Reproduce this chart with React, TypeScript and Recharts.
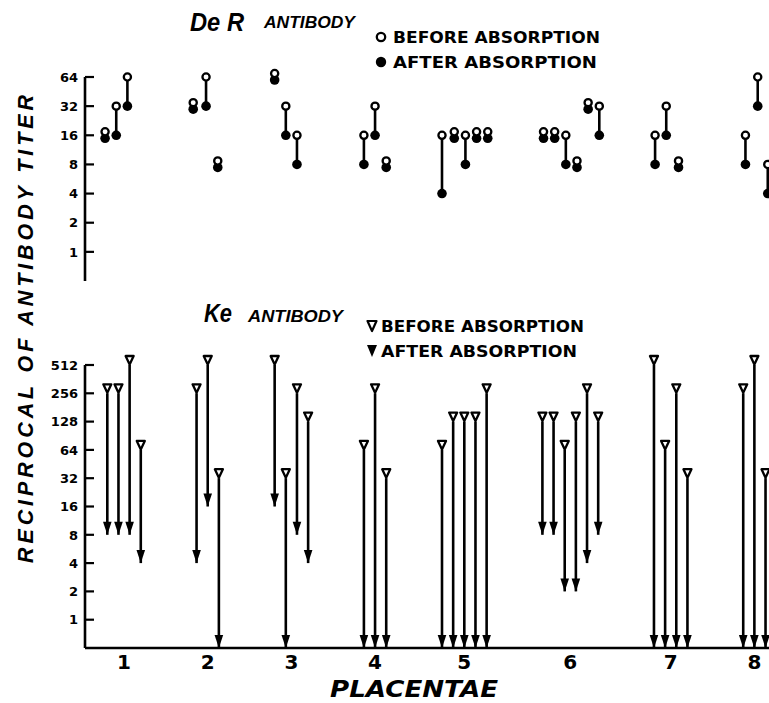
import React from 'react';
import { ScatterChart, Scatter, XAxis, YAxis, ErrorBar, Legend } from 'recharts';

// ---------------- data ----------------
const PLACENTA_LABELS = ['1', '2', '3', '4', '5', '6', '7', '8'];

// titres below 1 are plotted at the axis floor
const BELOW_ONE = 0.5;

// De R antibody (upper panel)
const DER_PLACENTA = [1, 1, 1, 2, 2, 2, 3, 3, 3, 4, 4, 4, 5, 5, 5, 5, 5, 6, 6, 6, 6, 6, 6, 7, 7, 7, 8, 8, 8];
const DER_SAMPLE = [1.8, 2.8, 3.8, 9.7, 10.85, 11.9, 17, 18, 19, 25, 26, 27, 32, 33.1, 34.1, 35.1, 36.1, 41.1, 42.1, 43.1, 44.1, 45.1, 46.1, 51.1, 52.1, 53.2, 59.2, 60.3, 61.2];
const DER_BEFORE = [16, 32, 64, 32, 64, 8, 64, 32, 16, 16, 32, 8, 16, 16, 16, 16, 16, 16, 16, 16, 8, 32, 32, 16, 32, 8, 16, 64, 8];
const DER_AFTER = [16, 16, 32, 32, 32, 8, 64, 16, 8, 8, 16, 8, 4, 16, 8, 16, 16, 16, 16, 8, 8, 32, 16, 8, 16, 8, 8, 32, 4];
const DER_TICKS = [1, 2, 4, 8, 16, 32, 64];

// Ke antibody (lower panel)
const KE_PLACENTA = [1, 1, 1, 1, 2, 2, 2, 3, 3, 3, 3, 4, 4, 4, 5, 5, 5, 5, 5, 6, 6, 6, 6, 6, 6, 7, 7, 7, 7, 8, 8, 8];
const KE_SAMPLE = [2, 3, 4, 5, 10, 11, 12, 17, 18, 19, 20, 25, 26, 27, 32, 33, 34, 35, 36, 41, 42, 43, 44, 45, 46, 51, 52, 53, 54, 59, 60, 61];
const KE_BEFORE = [256, 256, 512, 64, 256, 512, 32, 512, 32, 256, 128, 64, 256, 32, 64, 128, 128, 128, 256, 128, 128, 64, 128, 256, 128, 512, 64, 256, 32, 256, 512, 32];
const KE_AFTER = [8, 8, 8, 4, 4, 16, BELOW_ONE, 16, BELOW_ONE, 8, 4, BELOW_ONE, BELOW_ONE, BELOW_ONE, BELOW_ONE, BELOW_ONE, BELOW_ONE, BELOW_ONE, BELOW_ONE, 8, 8, 2, 2, 4, 8, BELOW_ONE, BELOW_ONE, BELOW_ONE, BELOW_ONE, BELOW_ONE, BELOW_ONE, BELOW_ONE];
const KE_TICKS = [1, 2, 4, 8, 16, 32, 64, 128, 256, 512];

const SERIES_BEFORE = 'BEFORE ABSORPTION';
const SERIES_AFTER = 'AFTER ABSORPTION';

// ---------------- derived tables ----------------
type Row = { sample: number; placenta: number; before: number; after: number };

const derRows: Row[] = DER_SAMPLE.map((s, i) => ({
  sample: s,
  placenta: DER_PLACENTA[i],
  before: DER_BEFORE[i],
  after: DER_AFTER[i],
}));
const keRows: Row[] = KE_SAMPLE.map((s, i) => ({
  sample: s,
  placenta: KE_PLACENTA[i],
  before: KE_BEFORE[i],
  after: KE_AFTER[i],
}));

// placenta label sits at the centre of its group of samples
const placentaTicks = PLACENTA_LABELS.map((_, p) => {
  const xs = keRows.filter((r) => r.placenta === p + 1).map((r) => r.sample);
  return (Math.min(...xs) + Math.max(...xs)) / 2;
});
const tickLabel = (v: number) => {
  const i = placentaTicks.indexOf(v);
  return i >= 0 ? PLACENTA_LABELS[i] : '';
};

const drop = (r: Row) => [r.before - r.after, 0];

// ---------------- styling ----------------
const FONT = "'DejaVu Sans', 'Liberation Sans', sans-serif";
const FONT2 = "'Liberation Sans', 'DejaVu Sans', sans-serif";
const INK = '#000';
const X_DOMAIN = [0, 64];
const CHART_W = 800;

// ---------------- shapes ----------------
const OpenCircle = (p: any) => {
  const { cx, cy, payload } = p;
  const dy = payload && payload.before === payload.after ? -3.5 : 0;
  return <circle cx={cx} cy={cy + dy} r={3.6} fill="#fff" stroke={INK} strokeWidth={2.3} />;
};
const FilledCircle = (p: any) => {
  const { cx, cy, payload } = p;
  const dy = payload && payload.before === payload.after ? 3 : 0;
  return <circle cx={cx} cy={cy + dy} r={4.8} fill={INK} />;
};
const OpenTriangle = (p: any) => {
  const { cx, cy } = p;
  return (
    <polygon
      points={`${cx - 4},${cy - 9} ${cx + 4},${cy - 9} ${cx},${cy - 0.5}`}
      fill="#fff"
      stroke={INK}
      strokeWidth={2.3}
      strokeLinejoin="round"
    />
  );
};
const FilledTriangle = (p: any) => {
  const { cx, cy } = p;
  return <polygon points={`${cx - 4.3},${cy - 13} ${cx + 4.3},${cy - 13} ${cx},${cy}`} fill={INK} />;
};

const YTick = (p: any) => {
  const { x, y, payload } = p;
  return (
    <g>
      <line x1={x} x2={x + 9} y1={y} y2={y} stroke={INK} strokeWidth={2.2} />
      <text x={x - 7} y={y} dy={4.7} textAnchor="end" fontFamily={FONT} fontWeight="bold" fontSize={13} fill={INK}>
        {payload.value}
      </text>
    </g>
  );
};

const XTick = (p: any) => {
  const { x, y, payload } = p;
  return (
    <text x={x} y={y + 21} textAnchor="middle" fontFamily={FONT} fontWeight="bold" fontSize={20} fill={INK}>
      {tickLabel(payload.value)}
    </text>
  );
};

const legendText = (label: string, x: number, y: number, len: number) => (
  <text x={x} y={y} fontFamily={FONT} fontWeight="bold" fontSize={15} fill={INK} textLength={len} lengthAdjust="spacingAndGlyphs">
    {label}
  </text>
);

const orderNames = (payload: any[] | undefined) => {
  const names = (payload || []).map((e: any) => String(e.value));
  const b = names.find((n) => n === SERIES_BEFORE) || SERIES_BEFORE;
  const a = names.find((n) => n === SERIES_AFTER) || SERIES_AFTER;
  return [b, a];
};

const CircleLegend = (props: any) => {
  const [b, a] = orderNames(props.payload);
  return (
    <svg width={240} height={50} style={{ display: 'block' }}>
      <circle cx={7} cy={13} r={4.2} fill="#fff" stroke={INK} strokeWidth={2.3} />
      {legendText(b, 19, 19, 207)}
      <circle cx={7} cy={38} r={5.2} fill={INK} />
      {legendText(a, 19, 44, 204)}
    </svg>
  );
};

const TriangleLegend = (props: any) => {
  const [b, a] = orderNames(props.payload);
  return (
    <svg width={240} height={50} style={{ display: 'block' }}>
      <polygon points="2.5,7 11.5,7 7,17" fill="#fff" stroke={INK} strokeWidth={2.2} strokeLinejoin="round" />
      {legendText(b, 16, 18, 203)}
      <polygon points="2,31 12,31 7,43" fill={INK} />
      {legendText(a, 16, 43, 196)}
    </svg>
  );
};

const axisLine = { stroke: INK, strokeWidth: 2.6 };

export default function App() {
  return (
    <div
      style={{
        position: 'absolute',
        left: 0,
        top: 0,
        width: 769,
        height: 703,
        overflow: 'hidden',
        background: '#fff',
      }}
    >
      {/* upper panel: De R antibody */}
      <div style={{ position: 'absolute', left: 0, top: 0 }}>
        <ScatterChart width={CHART_W} height={300} margin={{ top: 77, right: 1, bottom: 19, left: 25 }}>
          <XAxis
            type="number"
            dataKey="sample"
            domain={X_DOMAIN}
            height={0}
            tick={false}
            tickLine={false}
            axisLine={axisLine}
          />
          <YAxis
            type="number"
            scale="log"
            domain={[BELOW_ONE, 64]}
            ticks={DER_TICKS}
            interval={0}
            width={60}
            tickSize={0}
            tickMargin={0}
            tickLine={false}
            axisLine={axisLine}
            tick={<YTick />}
          />
          <Legend
            layout="horizontal"
            verticalAlign="middle"
            align="center"
            wrapperStyle={{ left: 374, top: 24, width: 240, height: 50 }}
            content={<CircleLegend />}
          />
          <Scatter name={SERIES_AFTER} data={derRows} dataKey="after" fill={INK} shape={<FilledCircle />} isAnimationActive={false} />
          <Scatter name={SERIES_BEFORE} data={derRows} dataKey="before" fill="#fff" stroke={INK} shape={<OpenCircle />} isAnimationActive={false}>
            <ErrorBar dataKey={drop} direction="y" width={0} stroke={INK} strokeWidth={2.6} isAnimationActive={false} />
          </Scatter>
        </ScatterChart>
      </div>

      {/* lower panel: Ke antibody */}
      <div style={{ position: 'absolute', left: 0, top: 300 }}>
        <ScatterChart width={CHART_W} height={403} margin={{ top: 65, right: 1, bottom: 25, left: 25 }}>
          <XAxis
            type="number"
            dataKey="sample"
            domain={X_DOMAIN}
            ticks={placentaTicks}
            interval={0}
            height={30}
            tickSize={0}
            tickMargin={0}
            tickLine={false}
            axisLine={axisLine}
            tick={<XTick />}
          />
          <YAxis
            type="number"
            scale="log"
            domain={[BELOW_ONE, 512]}
            ticks={KE_TICKS}
            interval={0}
            width={60}
            tickSize={0}
            tickMargin={0}
            tickLine={false}
            axisLine={axisLine}
            tick={<YTick />}
          />
          <Legend
            layout="horizontal"
            verticalAlign="middle"
            align="center"
            wrapperStyle={{ left: 365, top: 14, width: 240, height: 50 }}
            content={<TriangleLegend />}
          />
          <Scatter name={SERIES_AFTER} data={keRows} dataKey="after" fill={INK} shape={<FilledTriangle />} isAnimationActive={false} />
          <Scatter name={SERIES_BEFORE} data={keRows} dataKey="before" fill="#fff" stroke={INK} shape={<OpenTriangle />} isAnimationActive={false}>
            <ErrorBar dataKey={drop} direction="y" width={0} stroke={INK} strokeWidth={2.6} isAnimationActive={false} />
          </Scatter>
        </ScatterChart>
      </div>

      {/* titles and shared axis titles */}
      <svg width={769} height={703} style={{ position: 'absolute', left: 0, top: 0, pointerEvents: 'none' }}>
        <text
          transform="translate(33,329) rotate(-90)"
          textAnchor="middle"
          fontFamily={FONT2}
          fontWeight="bold"
          fontStyle="italic"
          fontSize={21.5}
          fill={INK}
          textLength={468}
          lengthAdjust="spacing"
        >
          RECIPROCAL OF ANTIBODY TITER
        </text>
        <text x={190} y={31} fontFamily={FONT2} fontWeight="bold" fontStyle="italic" fontSize={25} fill={INK} textLength={54} lengthAdjust="spacingAndGlyphs">
          De R
        </text>
        <text x={264} y={28} fontFamily={FONT2} fontWeight="bold" fontStyle="italic" fontSize={16.5} fill={INK} textLength={91} lengthAdjust="spacingAndGlyphs">
          ANTIBODY
        </text>
        <text x={204} y={322} fontFamily={FONT2} fontWeight="bold" fontStyle="italic" fontSize={25} fill={INK} textLength={28} lengthAdjust="spacingAndGlyphs">
          Ke
        </text>
        <text x={248} y={322} fontFamily={FONT2} fontWeight="bold" fontStyle="italic" fontSize={16.5} fill={INK} textLength={95} lengthAdjust="spacingAndGlyphs">
          ANTIBODY
        </text>
        <text x={414} y={697} textAnchor="middle" fontFamily={FONT} fontWeight="bold" fontStyle="italic" fontSize={23.5} fill={INK} textLength={168} lengthAdjust="spacingAndGlyphs">
          PLACENTAE
        </text>
      </svg>
    </div>
  );
}
